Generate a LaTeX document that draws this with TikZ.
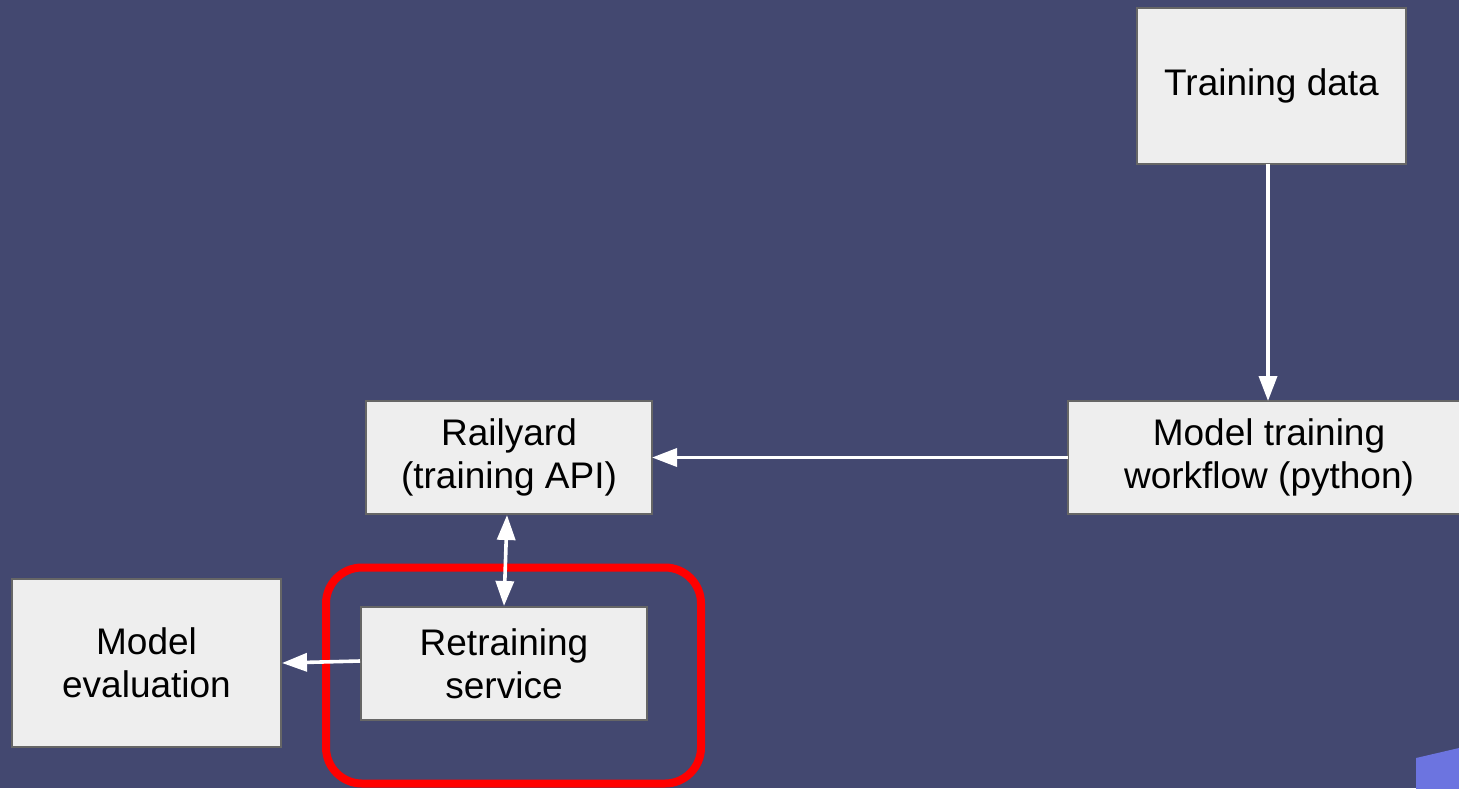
\documentclass[tikz,border=0pt]{standalone}
\usepackage{fontspec}
\setmainfont{Liberation Sans}
\usetikzlibrary{arrows.meta}
\definecolor{bgc}{RGB}{67,72,112}
\definecolor{boxfill}{RGB}{238,238,238}
\definecolor{boxline}{RGB}{102,102,102}
\definecolor{accent}{RGB}{108,116,224}
\tikzset{
  box/.style={draw=boxline, fill=boxfill, line width=1.25pt, inner sep=0pt, outer sep=0pt,
    align=center, text=black, font=\fontsize{18.5}{21.7}\selectfont},
  conn/.style={draw=white, line width=1.8pt, -{Triangle[length=12.5pt,width=9pt]}},
  conn2/.style={draw=white, line width=1.8pt, {Triangle[length=12.5pt,width=9pt]}-{Triangle[length=12.5pt,width=9pt]}},
  hilite/.style={draw=red, line width=4pt, rounded corners=18pt}
}
\begin{document}
\begin{tikzpicture}[x=0.5pt,y=-0.5pt]
\useasboundingbox (0,0) rectangle (1459,788);
\clip (0,0) rectangle (1459,788);
\fill[bgc] (0,0) rectangle (1459,788);
\fill[accent] (1416,758) -- (1459,748) -- (1459,790) -- (1416,790) -- cycle;

\node[box, minimum width=134.5pt, minimum height=78pt] (data) at (1271.5,86) {Training data};
\node[box, minimum width=201pt, minimum height=56.5pt] (train) at (1269,457.5) {Model training\\workflow (python)};
\node[box, minimum width=143pt, minimum height=56.5pt] (rail) at (509,457.5) {Railyard\\(training API)};
\node[box, minimum width=143pt, minimum height=56.5pt] (retrain) at (504,663.5) {Retraining\\service};
\node[box, minimum width=134.5pt, minimum height=84pt] (eval) at (146.5,663) {Model\\evaluation};

\draw[hilite] (326,567.5) rectangle (701,783.5);

\coordinate (datab) at (1268,164);
\coordinate (railb) at (507,515);
\coordinate (retrt) at (504,606);
\coordinate (retrl) at (360,661);
\coordinate (evalr) at (282,663);

\draw[conn] (datab) -- (datab |- train.north);
\draw[conn] (train.west) -- (rail.east);
\draw[conn2] (railb) -- (retrt);
\draw[conn] (retrl) -- (evalr);
\end{tikzpicture}
\end{document}
